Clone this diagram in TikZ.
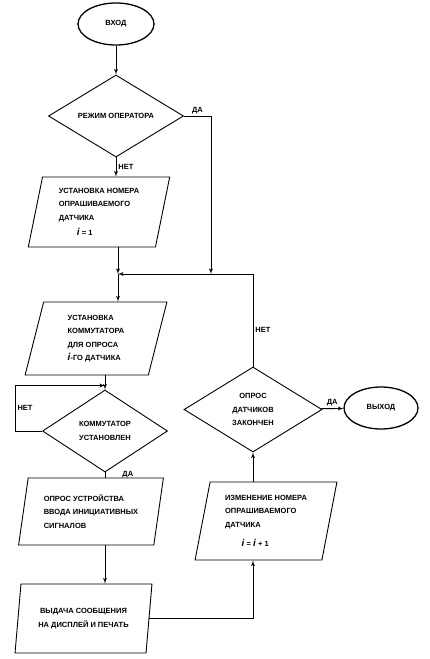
\documentclass[tikz,border=0pt]{standalone}
\usepackage{fontspec}
\setmainfont{Liberation Sans}
\usetikzlibrary{shapes,arrows,calc}
\tikzstyle{block} = [trapezium, draw, trapezium left angle=78, trapezium right angle=102,
    trapezium stretches=true, align=left, inner sep=0pt, line width=0.9pt]
\tikzstyle{decision} = [diamond, draw, align=center, inner sep=0pt, line width=0.9pt]
\tikzstyle{terminal} = [ellipse, draw, line width=1.3pt, minimum width=76pt, minimum height=42pt]
\tikzstyle{line} = [draw, line width=0.9pt, -latex']
\tikzstyle{lbl} = [inner sep=2pt]
\newcommand{\iv}{{\fontsize{10}{10}\selectfont\textit{i}}}

\begin{document}
\begin{tikzpicture}[x=1pt, y=-1pt, font=\bfseries\fontsize{7.5}{13.5}\selectfont]
    \useasboundingbox (0,0) rectangle (430,659);
    % Place nodes
    \node [terminal] (enter) at (116,24) {ВХОД};
    \node [decision, minimum width=135pt, minimum height=82pt] (mode) at (116,116) {РЕЖИМ ОПЕРАТОРА};
    \node [block, minimum width=142pt, minimum height=70pt] (setnum) at (99,212)
        {УСТАНОВКА НОМЕРА\\ОПРАШИВАЕМОГО\\ДАТЧИКА\\[2pt]\hspace*{2.4em}\iv\ = 1};
    \coordinate (join) at (118,274);
    \node [block, minimum width=142pt, minimum height=73pt] (setcom) at (96,338.5)
        {УСТАНОВКА\\КОММУТАТОРА\\ДЛЯ ОПРОСА\\\iv-ГО ДАТЧИКА};
    \node [decision, minimum width=125pt, minimum height=82pt] (comok) at (105,431) {КОММУТАТОР\\УСТАНОВЛЕН};
    \node [block, minimum width=145pt, minimum height=67pt] (poll) at (91,511.5)
        {ОПРОС УСТРОЙСТВА\\ВВОДА ИНИЦИАТИВНЫХ\\СИГНАЛОВ};
    \node [block, minimum width=137pt, minimum height=69pt, align=center] (output) at (83.5,618.5)
        {ВЫДАЧА СООБЩЕНИЯ\\НА ДИСПЛЕЙ И ПЕЧАТЬ};
    \node [block, minimum width=142pt, minimum height=78pt] (nextnum) at (266,521)
        {ИЗМЕНЕНИЕ НОМЕРА\\ОПРАШИВАЕМОГО\\ДАТЧИКА\\[6pt]\hspace*{2.2em}\iv\ = \iv\ + 1};
    \node [decision, minimum width=138pt, minimum height=85pt] (done) at (253,409.5) {ОПРОС\\ДАТЧИКОВ\\ЗАКОНЧЕН};
    \node [terminal, minimum width=74pt] (exit) at (381,408) {ВЫХОД};
    % Draw edges
    \path [line] (enter) -- (mode);
    \path [line] (mode.south) -- node [right, lbl] {НЕТ} (mode.south |- setnum.north);
    \path [line] (mode.east) -- node [above, lbl] {ДА} ++(27,0) coordinate (yes1) -- (yes1 |- join);
    \path [line] (join |- setnum.south) -- (join);
    \path [line] (join) -- (join |- setcom.north);
    \path [line] (done.north) |- node [pos=0.2, right, lbl] {НЕТ} (join);
    \path [line] (comok.north |- setcom.south) -- (comok.north);
    \path [line] (comok.west) -- ++(-27,0) |- node [pos=0.25, right, lbl] {НЕТ} ([yshift=4pt]comok.north);
    \draw [line width=0.9pt] (comok.south) -- node [right, xshift=15pt, lbl] {ДА} (comok.south |- poll.north);
    \path [line] (comok.south |- poll.south) -- (comok.south |- output.north);
    \path [line] (output.east) -| (done.south |- nextnum.south);
    \path [line] (done.south |- nextnum.north) -- (done.south);
    \path [line] (done) -- node [above, lbl] {ДА} (exit);
\end{tikzpicture}
\end{document}
